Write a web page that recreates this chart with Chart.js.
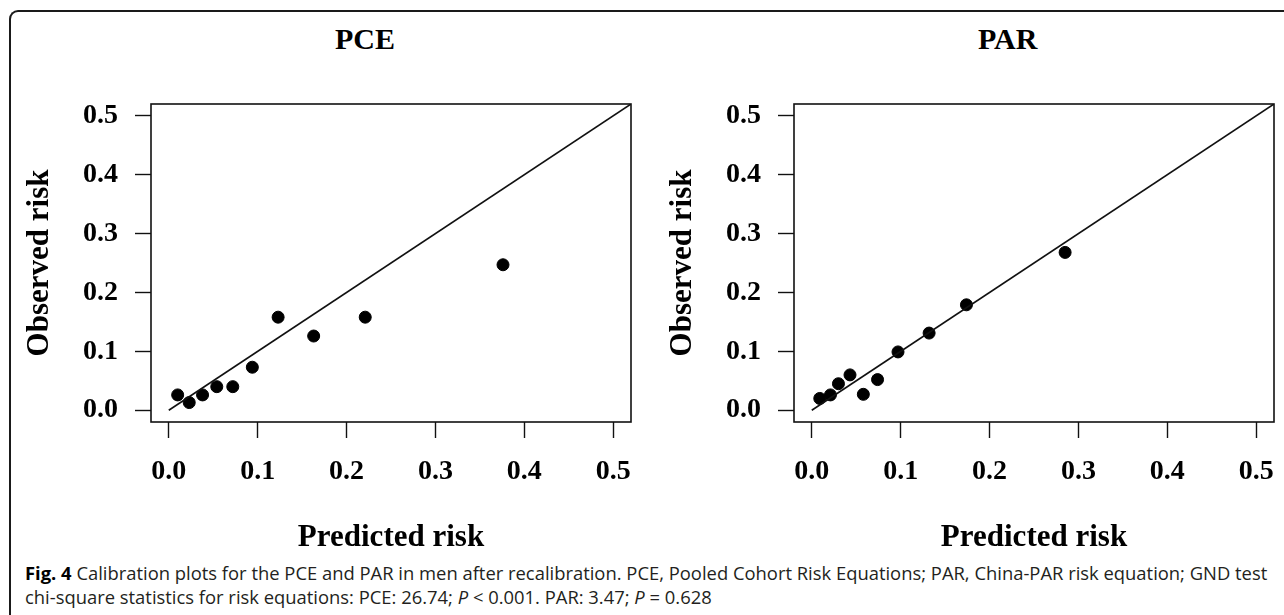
<!DOCTYPE html>
<html>
<head>
<meta charset="utf-8">
<script src="https://cdn.jsdelivr.net/npm/chart.js@4.4.1/dist/chart.umd.min.js"></script>
<style>
  html, body { margin: 0; padding: 0; background: #fff; }
  body { width: 1284px; height: 615px; position: relative; overflow: hidden; }
  .outline {
    position: absolute; left: 9px; top: 10px; width: 1400px; height: 700px;
    border-top: 2px solid #1a1a1a; border-left: 2px solid #1a1a1a;
    border-top-left-radius: 9px;
  }
  .panel { position: absolute; top: 0; width: 642px; height: 560px; }
  .title {
    position: absolute; top: 24px;
    font: bold 30px "Liberation Serif", serif; line-height: 30px; color: #000;
  }
  .caption {
    position: absolute; left: 25px; top: 561px; width: 1260px;
    font: 18.4px "Open Sans", sans-serif; line-height: 24px; color: #231f20;
    white-space: nowrap;
  }
  .caption b { color: #000; }
</style>
</head>
<body>
<div class="outline"></div>
<div class="title" style="left:335px">PCE</div>
<div class="title" style="left:978px">PAR</div>
<div class="panel" style="left:0"><canvas id="pce" width="642" height="560"></canvas></div>
<div class="panel" style="left:643px"><canvas id="par" width="642" height="560"></canvas></div>
<div class="caption"><b>Fig. 4</b> Calibration plots for the PCE and PAR in men after recalibration. PCE, Pooled Cohort Risk Equations; PAR, China-PAR risk equation; GND test<br>chi-square statistics for risk equations: PCE: 26.74; <i>P</i> &lt; 0.001. PAR: 3.47; <i>P</i> = 0.628</div>

<script>
// values
const pcePredicted = [0.010, 0.023, 0.038, 0.054, 0.072, 0.094, 0.123, 0.163, 0.221, 0.376];
const pceObserved  = [0.026, 0.013, 0.026, 0.040, 0.040, 0.073, 0.158, 0.126, 0.158, 0.247];
const parPredicted = [0.009, 0.021, 0.030, 0.043, 0.058, 0.074, 0.097, 0.132, 0.174, 0.285];
const parObserved  = [0.020, 0.026, 0.045, 0.060, 0.027, 0.052, 0.099, 0.131, 0.179, 0.268];
const tickValues = [0, 0.1, 0.2, 0.3, 0.4, 0.5];
const refLine = [0, 0.52];   // identity line ends
const axisMin = -0.02, axisMax = 0.52;

const serif = 'Liberation Serif';

// box around the plotting region, like R's box()
const framePlugin = {
  id: 'frame',
  beforeDatasetsDraw(chart) {
    const a = chart.chartArea, ctx = chart.ctx;
    ctx.save();
    ctx.strokeStyle = '#111';
    ctx.lineWidth = 1.6;
    ctx.strokeRect(a.left, a.top, a.right - a.left, a.bottom - a.top);
    ctx.restore();
  }
};

function axis(pos, titleText) {
  const horiz = pos === 'bottom';
  return {
    type: 'linear',
    position: pos,
    min: axisMin,
    max: axisMax,
    afterBuildTicks: s => { s.ticks = tickValues.map(v => ({ value: v })); },
    afterFit: s => {
      // fixed margins so the plot box sits where the original one does
      if (horiz) s.height = 138; else s.width = 151;
      s.paddingLeft = s.paddingRight = s.paddingTop = s.paddingBottom = 0;
    },
    border: { display: false },
    grid: { drawOnChartArea: false, drawTicks: true, tickLength: 16, color: '#111', tickWidth: 1.4 },
    ticks: {
      padding: 17,
      color: '#000',
      font: { family: serif, size: 28, weight: 'bold' },
      callback: v => v.toFixed(1)
    },
    title: {
      display: true,
      text: titleText,
      color: '#000',
      font: { family: serif, size: 31, weight: 'bold' },
      padding: horiz ? { top: 0, bottom: 3 } : { top: 21, bottom: 0 }
    }
  };
}

function makeChart(id, xs, ys) {
  const pts = xs.map((x, i) => ({ x: x, y: ys[i] }));
  return new Chart(document.getElementById(id), {
    type: 'scatter',
    data: {
      datasets: [
        {
          type: 'line',
          data: refLine.map(v => ({ x: v, y: v })),
          borderColor: '#111',
          borderWidth: 1.6,
          pointRadius: 0,
          fill: false
        },
        {
          data: pts,
          backgroundColor: '#000',
          borderColor: '#000',
          pointRadius: 6,
          pointBorderWidth: 1
        }
      ]
    },
    options: {
      responsive: false,
      animation: false,
      layout: { padding: { top: 104, right: 11, left: 0, bottom: 0 } },
      plugins: { legend: { display: false }, tooltip: { enabled: false }, title: { display: false } },
      scales: {
        x: axis('bottom', 'Predicted risk'),
        y: axis('left', 'Observed risk')
      }
    },
    plugins: [framePlugin]
  });
}

makeChart('pce', pcePredicted, pceObserved);
makeChart('par', parPredicted, parObserved);
</script>
</body>
</html>
